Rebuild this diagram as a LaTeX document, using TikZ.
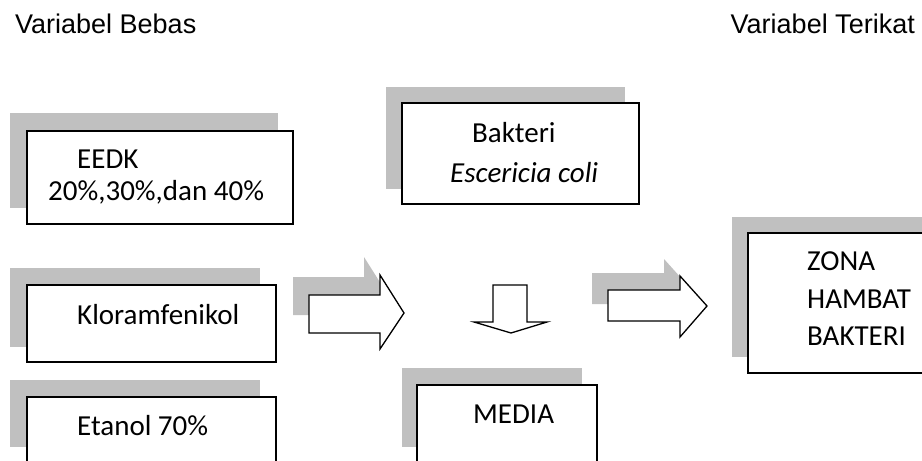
\documentclass[tikz,border=0pt]{standalone}
\usepackage{fontspec}
\setmainfont{Carlito}
\newfontfamily\headfont{Liberation Sans}
\definecolor{shade}{RGB}{192,192,192}
\tikzset{
    shadow/.style={fill=shade, draw=none},
    frame/.style={fill=white, draw=black, line width=1.5pt},
    blockarrow/.style={fill=white, draw=black, line width=1.3pt, line join=miter},
    txt/.style={anchor=base west, inner sep=0pt, font=\fontsize{29}{34}\selectfont},
    head/.style={inner sep=0pt, font=\headfont\fontsize{27}{32}\selectfont}
}
\begin{document}
\begin{tikzpicture}[x=1pt, y=-1pt]
    \useasboundingbox (0, 0) rectangle (922, 461);
    \clip (0, 0) rectangle (922, 461);

    \node[head, anchor=base west] (bebas) at (15, 33) {Variabel Bebas};
    \node[head, anchor=base east] (terikat) at (915, 33) {Variabel Terikat};

    % left column
    \fill[shadow] (10, 113) rectangle (278, 208);
    \draw[frame] (27, 131) rectangle (293, 224);
    \node[txt] (eedk) at (77, 168) {EEDK};
    \node[txt] (kadar) at (48, 200) {20\%,30\%,dan 40\%};

    \fill[shadow] (10, 268) rectangle (260, 347);
    \draw[frame] (27, 285) rectangle (276, 362);
    \node[txt] (klor) at (77, 324) {Kloramfenikol};

    \fill[shadow] (10, 380) rectangle (260, 447);
    \draw[frame] (27, 397) rectangle (276, 475);
    \node[txt] (etanol) at (77, 435) {Etanol 70\%};

    % middle column
    \fill[shadow] (386, 87) rectangle (625, 189);
    \draw[frame] (402, 103) rectangle (639, 204);
    \node[txt] (bakteri) at (472, 142) {Bakteri};
    \node[txt] (ecoli) at (450, 182) {\itshape Escericia coli};

    \fill[shadow] (402, 368) rectangle (582, 447);
    \draw[frame] (417, 385) rectangle (597, 475);
    \node[txt] (media) at (473, 423) {MEDIA};

    % right column
    \fill[shadow] (732, 217) rectangle (935, 357);
    \draw[frame] (748, 233) rectangle (950, 373);
    \node[txt] (zona) at (807, 270) {ZONA};
    \node[txt] (hambat) at (807, 308) {HAMBAT};
    \node[txt] (bakzona) at (807, 345) {BAKTERI};

    % block arrows
    \fill[shadow] (293, 277) -- (364, 277) -- (364, 257) -- (388, 295)
        -- (364, 331) -- (364, 315) -- (293, 315) -- cycle;
    \draw[blockarrow] (309, 295) -- (380, 295) -- (380, 275) -- (404, 313)
        -- (380, 349) -- (380, 333) -- (309, 333) -- cycle;

    \draw[blockarrow] (493, 285) -- (527, 285) -- (527, 322) -- (547, 322)
        -- (511, 333) -- (474, 322) -- (493, 322) -- cycle;

    \fill[shadow] (592, 273) -- (664, 273) -- (664, 259) -- (691, 289)
        -- (664, 320) -- (664, 304) -- (592, 304) -- cycle;
    \draw[blockarrow] (608, 290) -- (680, 290) -- (680, 276) -- (707, 306)
        -- (680, 337) -- (680, 321) -- (608, 321) -- cycle;
\end{tikzpicture}
\end{document}
